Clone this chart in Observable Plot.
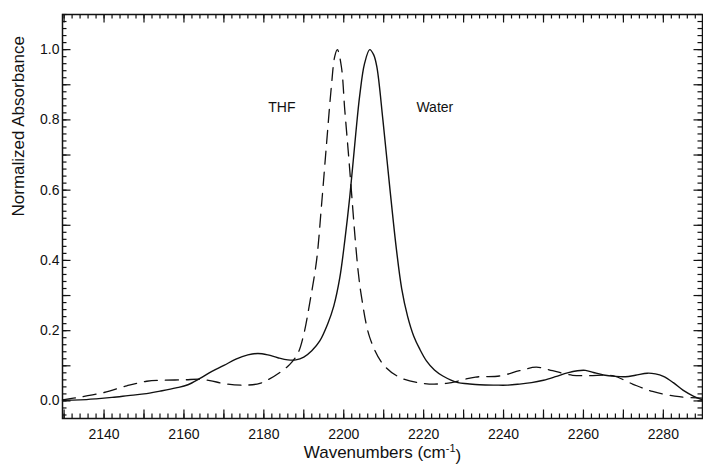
<!DOCTYPE html>
<html>
<head>
<meta charset="utf-8">
<script src="https://cdn.jsdelivr.net/npm/d3@7"></script>
<script src="https://cdn.jsdelivr.net/npm/@observablehq/plot@0.6"></script>
<style>
  body { margin: 0; background: #fff; }
  #chart svg { font-family: "Liberation Sans", Arial, Helvetica, sans-serif; }
</style>
</head>
<body>
<div id="chart"></div>
<script>
// Water (solid line)
const waterX = [2129.6, 2134, 2138, 2142, 2146, 2150, 2154, 2158, 2161, 2164, 2167, 2170, 2173, 2176, 2178.5, 2181, 2183.5, 2186, 2188, 2190, 2192, 2194, 2196, 2197.5, 2199, 2200.3, 2201.5, 2203, 2204, 2205.2, 2206.5, 2207.5, 2208.3, 2209.8, 2211.5, 2213.2, 2214.5, 2216, 2217.5, 2219, 2220.7, 2222.7, 2224.8, 2228.6, 2231, 2234, 2238, 2241, 2244, 2247, 2250, 2253, 2256, 2258.5, 2260.5, 2262.5, 2265, 2268, 2270.5, 2273, 2276, 2278, 2280, 2282.5, 2285, 2287.5, 2289.8];
const waterY = [0.002, 0.003, 0.006, 0.010, 0.015, 0.020, 0.028, 0.037, 0.046, 0.064, 0.084, 0.101, 0.119, 0.131, 0.135, 0.131, 0.123, 0.117, 0.117, 0.125, 0.143, 0.171, 0.220, 0.270, 0.350, 0.460, 0.580, 0.760, 0.870, 0.960, 1.000, 0.985, 0.950, 0.800, 0.610, 0.430, 0.320, 0.240, 0.185, 0.148, 0.114, 0.088, 0.071, 0.052, 0.049, 0.046, 0.045, 0.045, 0.048, 0.052, 0.059, 0.069, 0.080, 0.086, 0.087, 0.081, 0.074, 0.070, 0.069, 0.073, 0.079, 0.077, 0.070, 0.052, 0.030, 0.014, 0.003];

// THF (dashed line)
const thfX = [2129.6, 2134, 2140, 2145.7, 2150.7, 2155, 2160, 2164, 2166.5, 2170.7, 2175.7, 2179, 2181, 2184, 2186.5, 2188.5, 2190, 2191.5, 2193.2, 2194.4, 2195.7, 2196.9, 2197.75, 2198.4, 2199.4, 2200.25, 2201.1, 2201.9, 2202.8, 2203.6, 2204.4, 2206.5, 2209.8, 2214, 2219.8, 2225.7, 2233, 2239, 2244, 2248.2, 2252.3, 2257.3, 2261.5, 2267.3, 2272.3, 2277.3, 2284, 2289.8];
const thfY = [0.003, 0.011, 0.024, 0.043, 0.056, 0.059, 0.060, 0.062, 0.058, 0.048, 0.045, 0.050, 0.060, 0.081, 0.104, 0.135, 0.190, 0.280, 0.400, 0.552, 0.733, 0.895, 0.981, 1.000, 0.952, 0.829, 0.714, 0.600, 0.470, 0.370, 0.300, 0.181, 0.105, 0.067, 0.050, 0.050, 0.068, 0.071, 0.086, 0.096, 0.086, 0.073, 0.072, 0.072, 0.048, 0.027, 0.012, 0.008];

const xTickLabels = [2140, 2160, 2180, 2200, 2220, 2240, 2260, 2280];
const yTickLabels = [0.0, 0.2, 0.4, 0.6, 0.8, 1.0];
const seriesLabels = [
  {name: "THF", x: 2184.5, y: 0.835},
  {name: "Water", x: 2222.8, y: 0.835}
];
const xTitle = "Wavenumbers (cm-1)";
const yTitle = "Normalized Absorbance";

const water = waterX.map((x, i) => ({x, y: waterY[i]}));
const thf = thfX.map((x, i) => ({x, y: thfY[i]}));

const W = 703, H = 466, mL = 62, mR = 1, mT = 14, mB = 48;
const frameW = W - mL - mR, frameH = H - mT - mB;
const minorLen = 4.5, majorLen = 8.5;

const xMajor = d3.range(2130, 2291, 10);
const xMinor = d3.range(2130, 2291, 2);
const yMajor = d3.range(0, 11).map(i => i / 10);
const yMinor = d3.range(-2, 56).map(i => i / 50);

const ink = "#111";
const tk = {stroke: ink, strokeWidth: 1.2};

const plot = Plot.plot({
  width: W,
  height: H,
  marginLeft: mL,
  marginRight: mR,
  marginTop: mT,
  marginBottom: mB,
  style: {fontFamily: "Liberation Sans, Arial, Helvetica, sans-serif", background: "#fff", color: ink},
  x: {domain: [2129.6, 2289.8]},
  y: {domain: [-0.05, 1.1]},
  marks: [
    Plot.frame({stroke: ink, strokeWidth: 1.5}),
    // inward ticks on all four sides
    Plot.tickX(xMinor, {x: d => d, insetTop: frameH - minorLen, ...tk}),
    Plot.tickX(xMajor, {x: d => d, insetTop: frameH - majorLen, ...tk}),
    Plot.tickX(xMinor, {x: d => d, insetBottom: frameH - minorLen, ...tk}),
    Plot.tickX(xMajor, {x: d => d, insetBottom: frameH - majorLen, ...tk}),
    Plot.tickY(yMinor, {y: d => d, insetRight: frameW - minorLen, ...tk}),
    Plot.tickY(yMajor, {y: d => d, insetRight: frameW - majorLen, ...tk}),
    Plot.tickY(yMinor, {y: d => d, insetLeft: frameW - minorLen, ...tk}),
    Plot.tickY(yMajor, {y: d => d, insetLeft: frameW - majorLen, ...tk}),
    // tick labels
    Plot.axisX(xTickLabels, {anchor: "bottom", tickSize: 0, tickPadding: 11, fontSize: 14, label: null, tickFormat: d3.format("d"), fill: ink}),
    Plot.axisY(yTickLabels, {anchor: "left", tickSize: 0, tickPadding: 3, fontSize: 14, label: null, tickFormat: d3.format(".1f"), fill: ink}),
    // axis titles
    Plot.text([xTitle], {frameAnchor: "bottom", dy: 39.5, fontSize: 17, fill: ink, text: d => d, className: "xtitle"}),
    Plot.text([yTitle], {frameAnchor: "left", dx: -44, rotate: -90, fontSize: 17, fill: ink, text: d => d}),
    // data
    Plot.line(thf, {x: "x", y: "y", curve: "catmull-rom", stroke: ink, strokeWidth: 1.3, strokeDasharray: "13,8"}),
    Plot.line(water, {x: "x", y: "y", curve: "catmull-rom", stroke: ink, strokeWidth: 1.4}),
    // series labels
    Plot.text(seriesLabels, {x: "x", y: "y", text: "name", fontSize: 14, fill: ink})
  ]
});

document.getElementById("chart").appendChild(plot);

// render the superscript in the x-axis title
d3.select(plot).selectAll("g.xtitle text").each(function() {
  const t = d3.select(this);
  t.text(null);
  t.append("tspan").text("Wavenumbers (cm");
  t.append("tspan").attr("dy", "-0.55em").attr("font-size", "11").text("-1");
  t.append("tspan").attr("dy", "0.55em").text(")");
});
</script>
</body>
</html>
